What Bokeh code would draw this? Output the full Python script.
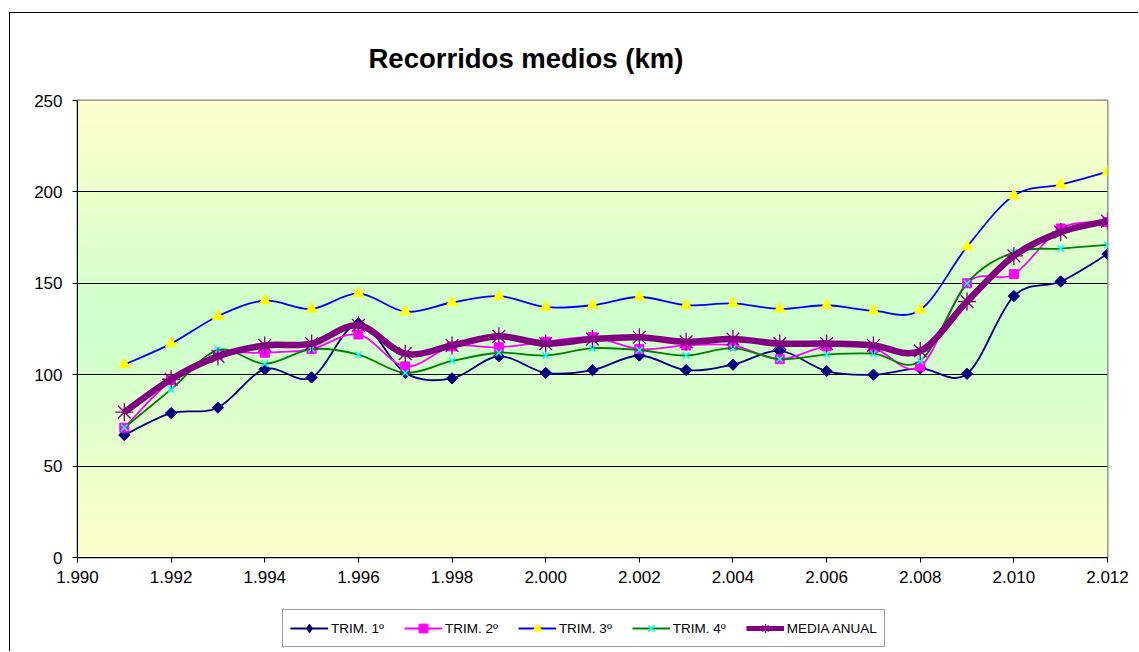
import numpy as np
from bokeh.plotting import figure
from bokeh.layouts import column
from bokeh.models import FixedTicker, Legend, LegendItem, ColumnDataSource, Range1d
from bokeh.embed import file_html
from bokeh.resources import INLINE

# ---- data ----
years = list(range(1991, 2013))
trim1 = [67, 79, 82, 103, 98.5, 128, 101, 98, 110, 101, 102.5, 110.5, 102.5, 105.5,
         113, 102, 100, 103.5, 100.5, 143, 151, 166]
trim2 = [71, 97, 111, 112, 114, 122, 104.5, 115.5, 115, 118, 120.5, 114, 116, 116,
         108.5, 115.5, 114.5, 104.5, 150, 155, 180, 183.5]
trim3 = [105.5, 117, 132, 140.5, 136, 144.5, 134.5, 139.5, 143, 137, 138, 142.5, 138, 139,
         136, 138, 135, 135.5, 170, 198, 204, 211]
trim4 = [71, 92, 113.5, 106, 114, 111, 101, 107.5, 112, 110.5, 114.5, 113.5, 110.5, 114.5,
         108.5, 111, 111.5, 107.5, 150, 167, 169, 171]
media = [79.5, 97.5, 110, 116, 117, 127, 111.5, 116, 121, 117, 119.5, 120.5, 118, 119.5,
         117, 117, 116, 113, 140, 165, 178, 184]
labels = ["TRIM. 1º", "TRIM. 2º", "TRIM. 3º", "TRIM. 4º", "MEDIA ANUAL"]
x_ticks = list(range(1990, 2013, 2))
y_ticks = [0, 50, 100, 150, 200, 250]

FONT = "Liberation Sans"


def bez(xs, ys):
    n = len(xs)
    d = dict(x0=[], y0=[], x1=[], y1=[], cx0=[], cy0=[], cx1=[], cy1=[])
    for i in range(n - 1):
        a = i - 1 if i > 0 else i
        b = i + 2 if i + 2 < n else i + 1
        d["x0"].append(xs[i]); d["y0"].append(ys[i])
        d["x1"].append(xs[i + 1]); d["y1"].append(ys[i + 1])
        d["cx0"].append(xs[i] + (xs[i + 1] - xs[a]) / 6.0)
        d["cy0"].append(ys[i] + (ys[i + 1] - ys[a]) / 6.0)
        d["cx1"].append(xs[i + 1] - (xs[b] - xs[i]) / 6.0)
        d["cy1"].append(ys[i + 1] - (ys[b] - ys[i]) / 6.0)
    return d


p = figure(width=1128, height=588, x_range=(1990, 2012), y_range=(0, 250),
           output_backend="svg", toolbar_location=None,
           min_border_left=67, min_border_right=31, min_border_top=87, min_border_bottom=44)

# background gradient (yellow - green - yellow)
rows = 250
img = np.zeros((rows, 1), dtype=np.uint32)
view = img.view(dtype=np.uint8).reshape((rows, 1, 4))
for r in range(rows):
    t = abs((r + 0.5) / rows - 0.5) * 2
    view[r, 0, 0] = int(204 + 51 * t)
    view[r, 0, 1] = 255
    view[r, 0, 2] = 204
    view[r, 0, 3] = 255
p.image_rgba(image=[img], x=1990, y=0, dw=22, dh=250, level="image")

p.title.text = "Recorridos medios (km)"
p.title.text_font = FONT
p.title.text_font_size = "27.5px"
p.title.text_font_style = "bold"
p.title.text_color = "black"
p.title.align = "left"
p.title.offset = 291
p.title.standoff = 54

p.outline_line_color = "#808080"
p.outline_line_width = 2
p.background_fill_color = "#FFFFCC"

p.xgrid.visible = False
p.ygrid.ticker = FixedTicker(ticks=[50, 100, 150, 200])
p.ygrid.grid_line_color = "black"
p.ygrid.grid_line_width = 1

for ax in (p.xaxis[0], p.yaxis[0]):
    ax.axis_line_color = "black"
    ax.major_tick_line_color = "black"
    ax.minor_tick_line_color = None
    ax.major_tick_in = 0
    ax.major_tick_out = 5
    ax.major_label_text_font = FONT
    ax.major_label_text_font_size = "17px"
    ax.major_label_text_color = "black"

p.xaxis.ticker = FixedTicker(ticks=x_ticks)
p.xaxis.major_label_overrides = {t: "{:,}".format(t).replace(",", ".") for t in x_ticks}
p.xaxis.major_label_standoff = 8
p.yaxis.ticker = FixedTicker(ticks=y_ticks)
p.yaxis.major_label_standoff = 10

styles = [
    dict(lc="#000080", lw=1.8, marker="square", lmarker="diamond", angle=np.pi / 4,
         mfill="#000080", mline="#000080", size=8, mlw=1),
    dict(lc="#FF00FF", lw=1.8, marker="square", lmarker="square", angle=0,
         mfill="#FF00FF", mline="#FF00FF", size=9, mlw=1),
    dict(lc="#0000FF", lw=1.8, marker="triangle", lmarker="triangle", angle=0,
         mfill="#FFFF00", mline="#FFFF00", size=11, mlw=1),
    dict(lc="#008000", lw=1.8, marker="x", lmarker="x", angle=0,
         mfill=None, mline="#00FFFF", size=9, mlw=1.5),
    dict(lc="#800080", lw=6.5, marker="asterisk", lmarker="asterisk", angle=0,
         mfill=None, mline="#800080", size=18, mlw=1.3),
]
series = [trim1, trim2, trim3, trim4, media]

# legend strip underneath (its sample renderers lie outside its own ranges)
lf = figure(width=1128, height=50, x_range=Range1d(0, 1), y_range=Range1d(0, 1),
            output_backend="svg", toolbar_location=None, title=None,
            min_border=0, min_border_left=0, min_border_right=0, min_border_top=0, min_border_bottom=0)
lf.axis.visible = False
lf.grid.visible = False
lf.outline_line_color = None

items = []
for lab, ys, st in zip(labels, series, styles):
    d = bez(years, ys)
    p.bezier(x0="x0", y0="y0", x1="x1", y1="y1", cx0="cx0", cy0="cy0", cx1="cx1", cy1="cy1",
             source=ColumnDataSource(d), line_color=st["lc"], line_width=st["lw"])
    p.scatter(x=years, y=ys, marker=st["marker"], size=st["size"], angle=st["angle"],
              fill_color=st["mfill"], line_color=st["mline"], line_width=st["mlw"])
    lb = lf.bezier(x0="x0", y0="y0", x1="x1", y1="y1", cx0="cx0", cy0="cy0", cx1="cx1", cy1="cy1",
                   source=ColumnDataSource(d), line_color=st["lc"],
                   line_width=min(st["lw"], 5))
    ls = lf.scatter(x=years, y=ys, marker=st["lmarker"], size=st["size"],
                    fill_color=st["mfill"], line_color=st["mline"], line_width=st["mlw"])
    items.append(LegendItem(label=lab, renderers=[lb, ls]))

legend = Legend(items=items, orientation="horizontal", location=(205, 4),
                label_text_font=FONT, label_text_font_size="13.5px", label_text_color="black",
                glyph_width=38, glyph_height=22, label_height=14, label_standoff=3,
                spacing=20, padding=7, margin=0,
                border_line_color="#404040", border_line_width=1,
                background_fill_color="white", background_fill_alpha=1)
lf.add_layout(legend, "center")

layout = column(p, lf)
layout.styles = {"border-left": "1px solid black", "border-top": "1px solid black",
                 "margin-left": "9px", "margin-top": "12px"}

open("out.html", "w").write(file_html(layout, INLINE))
